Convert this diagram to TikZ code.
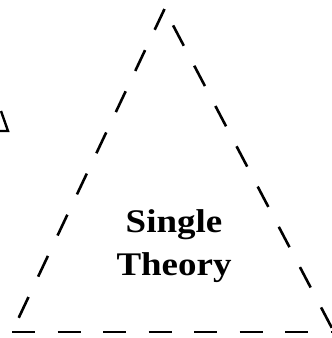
\documentclass[tikz,border=0pt]{standalone}
\usepackage{fontspec}
\setmainfont{Liberation Serif}
\begin{document}
\begin{tikzpicture}[x=1pt,y=-1pt,
  dashline/.style={line width=2.6pt,dash pattern=on 23pt off 22.5pt},
  solidline/.style={line width=2.4pt},
  lbl/.style={inner sep=0pt,font=\fontsize{33}{40}\selectfont\bfseries}]
\useasboundingbox (0,0) rectangle (332,338);
\clip (0,0) rectangle (332,338);
\coordinate (apex) at (164.5,9);
\coordinate (bl) at (12,332);
\coordinate (br) at (334,332);
\draw[dashline] (apex) -- (bl);
\draw[dashline] (bl) -- (br);
\draw[dashline,dash phase=27pt] (apex) -- (br);
% partial triangle at left edge
\coordinate (pt) at (1,111);
\coordinate (pc) at (8,131);
\coordinate (pl) at (-2,131);
\draw[solidline,line join=miter] (pt) -- (pc) -- (pl);
\node[lbl,anchor=base] (single) at (174,232) {\scalebox{1.12}[1]{Single}};
\node[lbl,anchor=base] (theory) at (174,275) {\scalebox{1.12}[1]{Theory}};
\end{tikzpicture}
\end{document}
